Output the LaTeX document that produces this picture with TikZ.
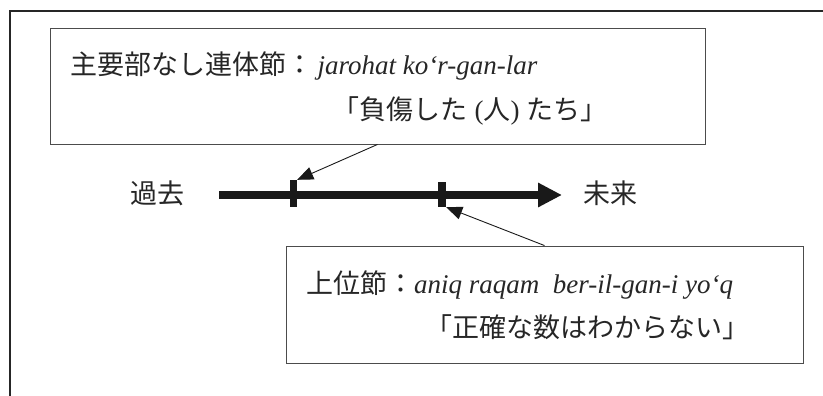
\documentclass[tikz,border=0pt]{standalone}
\usepackage{fontspec}
\setmainfont{Liberation Serif}
\newfontfamily\jp{Noto Sans CJK JP}
\usetikzlibrary{arrows.meta}
\begin{document}
\begin{tikzpicture}[x=1pt,y=-1pt,
  box/.style={draw=black!70, line width=0.9pt, inner sep=0pt},
  txt/.style={font=\fontsize{27}{32}\selectfont, inner sep=0pt, text=black!85},
  thinarrow/.style={draw=black!90, line width=0.9pt, -{Triangle[length=16pt,width=13pt]}},
  tickbar/.style={fill=black!90, draw=none, inner sep=0pt},
  timeline/.style={draw=black!90, line width=8pt, -{Triangle[length=24pt,width=23pt]}}
  ]
\useasboundingbox (0,0) rectangle (823,396);
% outer frame (cut at right and bottom)
\draw[black!85, line width=1.5pt] (10,400) -- (10,11) -- (830,11);
% boxes
\node[box, minimum width=655pt, minimum height=116pt] (b1) at (377.5,86) {};
\node[box, minimum width=517pt, minimum height=117pt] (b2) at (544.5,304.5) {};
% box texts
\node[txt, anchor=base west] (t1a) at (70,75) {{\jp 主要部なし連体節：}\,\textit{jarohat ko‘r-gan-lar}};
\node[txt, anchor=base] (t1b) at (470,120) {{\jp 「負傷した} ({\jp 人}) {\jp たち」}};
\node[txt, anchor=base west] (t2a) at (306,293) {{\jp 上位節：}\textit{aniq raqam\ \ ber-il-gan-i yo‘q}};
\node[txt, anchor=base] (t2b) at (587,337) {{\jp 「正確な数はわからない」}};
% timeline
\coordinate (tl0) at (219,195);
\coordinate (tl1) at (562,195);
\draw[timeline] (tl0) -- (tl1);
\node[tickbar, minimum width=7pt, minimum height=27pt] (k1) at (293.5,193.5) {};
\node[tickbar, minimum width=8pt, minimum height=25pt] (k2) at (442,194.5) {};
\node[txt, anchor=base] (past) at (157.5,203) {\jp 過去};
\node[txt, anchor=base] (future) at (610,203) {\jp 未来};
% pointers
\draw[thinarrow] (b1.south) -- (k1.north east);
\draw[thinarrow] (b2.north) -- (k2.south east);
\end{tikzpicture}
\end{document}
